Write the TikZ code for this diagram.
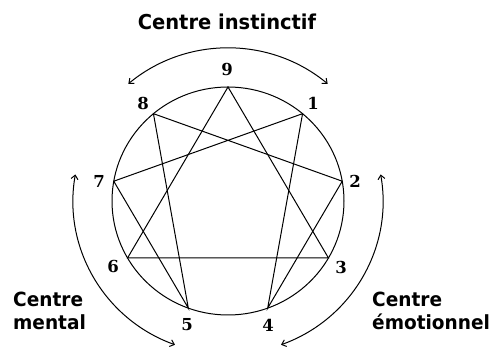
\documentclass[tikz,border=0pt]{standalone}
\usepackage{fontspec}
\setmainfont{DejaVu Sans}
\newfontfamily\digitfont{DejaVu Serif}
\usetikzlibrary{arrows.meta,calc}
\begin{document}
\begin{tikzpicture}[x=1pt,y=1pt,
  edge/.style={line width=1pt},
  ttl/.style={font=\fontsize{19.5}{23}\selectfont\bfseries, xscale=0.95, inner sep=0pt},
  num/.style={font=\digitfont\fontsize{16.5}{17}\selectfont\bfseries, inner sep=0pt},
  bend arc/.style={line width=1pt, {Straight Barb[length=4pt,width=7pt]}-{Straight Barb[length=4pt,width=7pt]}}]
\useasboundingbox (0,0) rectangle (496,348);
\fill[white] (0,0) rectangle (496,348);
\coordinate (c) at (228,147);
\draw[edge] (c) ellipse [x radius=116, y radius=114];
\foreach \n/\a in {9/90,1/50,2/10,3/-30,4/-70,5/-110,6/-150,7/170,8/130}
  \coordinate (p\n) at ($(c)+(\a:116pt and 114pt)$);
% triangle
\draw[edge] (p9) -- (p3) -- (p6) -- cycle;
% hexad
\draw[edge] (p1) -- (p4) -- (p2) -- (p8) -- (p5) -- (p7) -- cycle;
% digits
\node[num] (n9) at (227,279) {9};
\node[num] (n1) at (313,245) {1};
\node[num] (n8) at (143,245) {8};
\node[num] (n7) at (99,167) {7};
\node[num] (n2) at (355,167) {2};
\node[num] (n3) at (341,81) {3};
\node[num] (n6) at (113,82) {6};
\node[num] (n5) at (187,23) {5};
\node[num] (n4) at (268,23) {4};
% arcs
\draw[bend arc] ($(c)+(130:155pt and 153pt)$) arc[start angle=130, end angle=50, x radius=155, y radius=153];
\draw[bend arc] ($(c)+(170:155pt and 153pt)$) arc[start angle=170, end angle=250, x radius=155, y radius=153];
\draw[bend arc] ($(c)+(10:155pt and 153pt)$) arc[start angle=10, end angle=-70, x radius=155, y radius=153];
% labels
\node[ttl, font=\fontsize{20.5}{24}\selectfont\bfseries, anchor=base] (ti) at (227,318) {Centre instinctif};
\node[ttl, anchor=base west] (m1) at (13,41) {Centre};
\node[ttl, anchor=base west] (m2) at (13,18) {mental};
\node[ttl, anchor=base west] (e1) at (372,41) {Centre};
\node[ttl, anchor=base west] (e2) at (372,18) {émotionnel};
\end{tikzpicture}
\end{document}
